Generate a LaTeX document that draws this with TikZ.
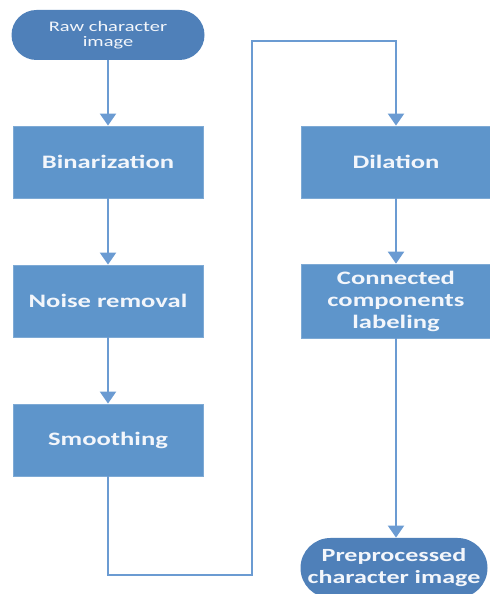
\documentclass[tikz,border=0pt]{standalone}
\usepackage{fontspec}
\setmainfont{Carlito}
\newfontfamily\widefont{Carlito}[FakeStretch=1.4]
\usepackage{tikz}
\usetikzlibrary{positioning,arrows.meta}
\usepackage{xcolor}
\definecolor{boxblue}{HTML}{5E95CB}
\definecolor{termblue}{HTML}{4F80B9}
\definecolor{lineblue}{HTML}{6B9BD2}
\definecolor{txtwhite}{HTML}{F3F6FB}
\tikzset{
  stepbox/.style={draw=boxblue!80!white, line width=0.4pt, fill=boxblue, minimum width=95pt, minimum height=36pt, align=center, text=txtwhite, font=\widefont\bfseries\fontsize{9.5}{11}\selectfont},
  endcap/.style={rectangle, fill=termblue, align=center, text=txtwhite, inner xsep=1pt},
  flow/.style={draw=lineblue, line width=1.1pt, -{Triangle[width=8pt,length=6pt]}}
}

\begin{document}
\begin{tikzpicture}[x=0.5pt,y=0.5pt]
            \useasboundingbox (0,0) rectangle (489,594);
            \node[endcap, minimum width=96.5pt, minimum height=25pt, rounded corners=12.5pt, font=\widefont\fontsize{7.3}{7.8}\selectfont](raw) at (108,559){Raw character\\image};
            \node[stepbox](bin) at (108,432){Binarization};
            \node[stepbox](noise) at (108,293){Noise removal};
            \node[stepbox](smooth) at (108,154){Smoothing};
            \node[stepbox](dil) at (396,432){Dilation};
            \node[stepbox](conn) at (396,293){Connected\\components\\labeling};
            \node[endcap, minimum width=93.5pt, minimum height=30pt, rounded corners=15pt, font=\widefont\bfseries\fontsize{9.3}{11}\selectfont](pre) at (394,26){Preprocessed\\character image};
            \coordinate (low) at (252,19);
            \coordinate (high) at (252,553);
            \path (raw) edge[flow] (bin);
            \path (bin) edge[flow] (noise);
            \path (noise) edge[flow] (smooth);
            \draw[flow] (smooth.south) -- (smooth.south |- low) -- (low) -- (high) -- (high -| dil.north) -- (dil.north);
            \path (dil) edge[flow] (conn);
            \path (conn.south) edge[flow] (pre.north -| conn.south);
            \end{tikzpicture}
\end{document}
